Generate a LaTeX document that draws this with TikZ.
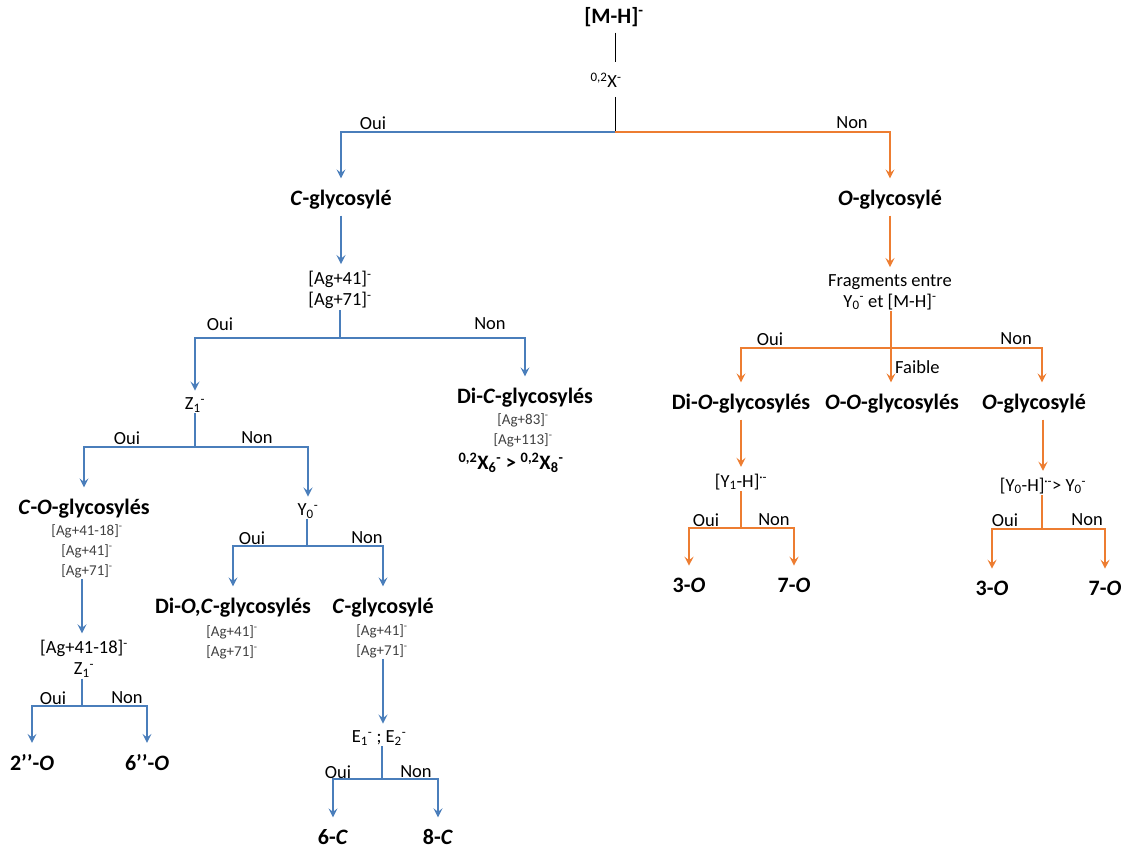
\documentclass[tikz,border=0pt]{standalone}
\usepackage{fontspec}
\setmainfont{Carlito}
\usetikzlibrary{arrows.meta,calc,positioning}
\definecolor{brblue}{RGB}{74,126,187}
\definecolor{brorange}{RGB}{237,125,49}
\newcommand{\sub}[1]{\textsubscript{#1}}
\newcommand{\sups}[1]{\textsuperscript{#1}}

\begin{document}
\begin{tikzpicture}[x=1pt,y=-1pt,>={Stealth[length=9pt,width=9pt,inset=3.5pt]},
    every node/.style={inner sep=1pt},
    ttl/.style={font=\fontsize{22}{24}\selectfont\bfseries,outer ysep=5pt},
    txt/.style={font=\fontsize{18.5}{21}\selectfont,align=center},
    sml/.style={font=\fontsize{15}{20}\selectfont,align=center,text=black!75},
    yn/.style={font=\fontsize{18.5}{20}\selectfont},
    bl/.style={draw=brblue,line width=1.4pt},
    og/.style={draw=brorange,line width=1.4pt},
    arr/.style={->,shorten >=6pt}]
  \useasboundingbox (0,0) rectangle (1128,848);
  % root
  \node[ttl] (mh) at (614,17) {[M-H]\sups{-}};
  \node[txt] (x02) at (606,80) {\sups{0,2}X\sups{-}};
  \coordinate (j0) at (615,132);
  \draw[line width=0.9pt] (mh.south-|j0) -- (615,62);
  \draw[line width=0.9pt] (615,97) -- (j0);
  \node[ttl] (cgly) at (341,200) {\textit{C}-glycosylé};
  \node[ttl] (ogly) at (890,200) {\textit{O}-glycosylé};
  \draw[bl,arr] (j0) -| (cgly);
  \draw[og,arr] (j0) -| (ogly);
  \node[yn] at (373,123) {Oui};
  \node[yn] at (852,123) {Non};

  % C-glycosyle branch
  \node[txt] (ag1) at (340,290) {[Ag+41]\sups{-}\\{[Ag+71]\sups{-}}};
  \draw[bl,arr] (cgly) -- (cgly|-ag1.north);
  \coordinate (j1) at (340,338);
  \draw[bl] (ag1) -- (j1);
  \node[txt] (z1) at (195,405) {Z\sub{1}\sups{-}};
  \node[ttl] (dic) at (525,398) {Di-\textit{C}-glycosylés};
  \node[sml] (dicinfo) at (523,430) {[Ag+83]\sups{-}\\{[Ag+113]\sups{-}}};
  \node[font=\fontsize{20.5}{22}\selectfont\bfseries] (dicx) at (511,463)
    {\sups{0,2}X\sub{6}\sups{-} > \sups{0,2}X\sub{8}\sups{-}};
  \draw[bl,arr] (j1) -| (z1);
  \draw[bl,arr] (j1) -| (dic);
  \node[yn] at (220,324) {Oui};
  \node[yn] at (490,324) {Non};

  \coordinate (j2) at (195,447);
  \draw[bl] (z1) -- (j2);
  \node[ttl] (cog) at (84,509) {\textit{C}-\textit{O}-glycosylés};
  \node[sml] (coginfo) at (87,551) {[Ag+41-18]\sups{-}\\{[Ag+41]\sups{-}}\\{[Ag+71]\sups{-}}};
  \node[txt] (y0) at (308,511) {Y\sub{0}\sups{-}};
  \draw[bl,arr] (j2) -| (cog);
  \draw[bl,arr] (j2) -| (y0);
  \node[yn] at (127,438) {Oui};
  \node[yn] at (257,438) {Non};

  \node[txt] (agz) at (84,659) {[Ag+41-18]\sups{-}\\Z\sub{1}\sups{-}};
  \draw[bl,arr] (coginfo.south-|82,0) -- (82,0|-agz.north);
  \coordinate (j4) at (82,706);
  \draw[bl] (agz.south-|j4) -- (j4);
  \node[ttl] (o2) at (32,763) {2’’-\textit{O}};
  \node[ttl] (o6) at (147,763) {6’’-\textit{O}};
  \draw[bl,arr] (j4) -| (o2);
  \draw[bl,arr] (j4) -| (o6);
  \node[yn] at (53,698) {Oui};
  \node[yn] at (127,698) {Non};

  \coordinate (j3) at (307,546);
  \draw[bl] (y0.south-|j3) -- (j3);
  \node[ttl] (dioc) at (233,608) {Di-\textit{O,C}-glycosylés};
  \node[sml] (diocinfo) at (232,642) {[Ag+41]\sups{-}\\{[Ag+71]\sups{-}}};
  \node[ttl] (cg2) at (383,608) {\textit{C}-glycosylé};
  \node[sml] (cg2info) at (382,641) {[Ag+41]\sups{-}\\{[Ag+71]\sups{-}}};
  \draw[bl,arr] (j3) -| (dioc);
  \draw[bl,arr] (j3) -| (cg2);
  \node[yn] at (252,538) {Oui};
  \node[yn] at (367,538) {Non};

  \node[txt] (e12) at (379,738) {E\sub{1}\sups{-} ; E\sub{2}\sups{-}};
  \draw[bl,arr] (cg2info.south-|383,0) -- (383,0|-e12.north);
  \coordinate (j5) at (382,779);
  \draw[bl] (e12.south-|j5) -- (j5);
  \node[ttl] (c6) at (333,837) {6-\textit{C}};
  \node[ttl] (c8) at (438,837) {8-\textit{C}};
  \draw[bl,arr] (j5) -| (c6);
  \draw[bl,arr] (j5) -| (c8);
  \node[yn] at (338,772) {Oui};
  \node[yn] at (416,772) {Non};

  % O-glycosyle branch
  \node[txt] (frag) at (890,292) {Fragments entre\\Y\sub{0}\sups{-} et [M-H]\sups{-}};
  \draw[og,arr] (ogly) -- (ogly|-frag.north);
  \coordinate (j6) at (891,348);
  \node[ttl] (dio) at (741,404) {Di-\textit{O}-glycosylés};
  \node[ttl] (oo) at (892,404) {\textit{O}-\textit{O}-glycosylés};
  \node[ttl] (og2) at (1034,404) {\textit{O}-glycosylé};
  \draw[og] (frag.south-|j6) -- (j6);
  \draw[og,arr] (j6) -| (dio.north-|741,0);
  \draw[og,arr] (j6) -- (oo.north-|j6);
  \draw[og,arr] (j6) -| (og2.north-|1042,0);
  \node[yn] at (770,339) {Oui};
  \node[yn] at (1016,339) {Non};
  \node[yn,anchor=west] at (894,367) {Faible};

  \node[txt] (y1h) at (741,482) {[Y\sub{1}-H]\sups{·-}};
  \draw[og,arr] (dio.south-|741,0) -- (741,0|-y1h.north);
  \coordinate (j7) at (741,528);
  \draw[og] (y1h) -- (j7);
  \node[ttl] (o3a) at (689,585) {3-\textit{O}};
  \node[ttl] (o7a) at (794,585) {7-\textit{O}};
  \draw[og,arr] (j7) -| (o3a);
  \draw[og,arr] (j7) -| (o7a);
  \node[yn] at (706,520) {Oui};
  \node[yn] at (774,520) {Non};

  \node[txt] (y0h) at (1043,486) {[Y\sub{0}-H]\sups{·-}> Y\sub{0}\sups{-}};
  \draw[og,arr] (og2.south-|1043,0) -- (1043,0|-y0h.north);
  \coordinate (j8) at (1042,529);
  \draw[og] (y0h.south-|j8) -- (j8);
  \node[ttl] (o3b) at (992,588) {3-\textit{O}};
  \node[ttl] (o7b) at (1105,588) {7-\textit{O}};
  \draw[og,arr] (j8) -| (o3b);
  \draw[og,arr] (j8) -| (o7b);
  \node[yn] at (1005,520) {Oui};
  \node[yn] at (1087,520) {Non};
\end{tikzpicture}
\end{document}
